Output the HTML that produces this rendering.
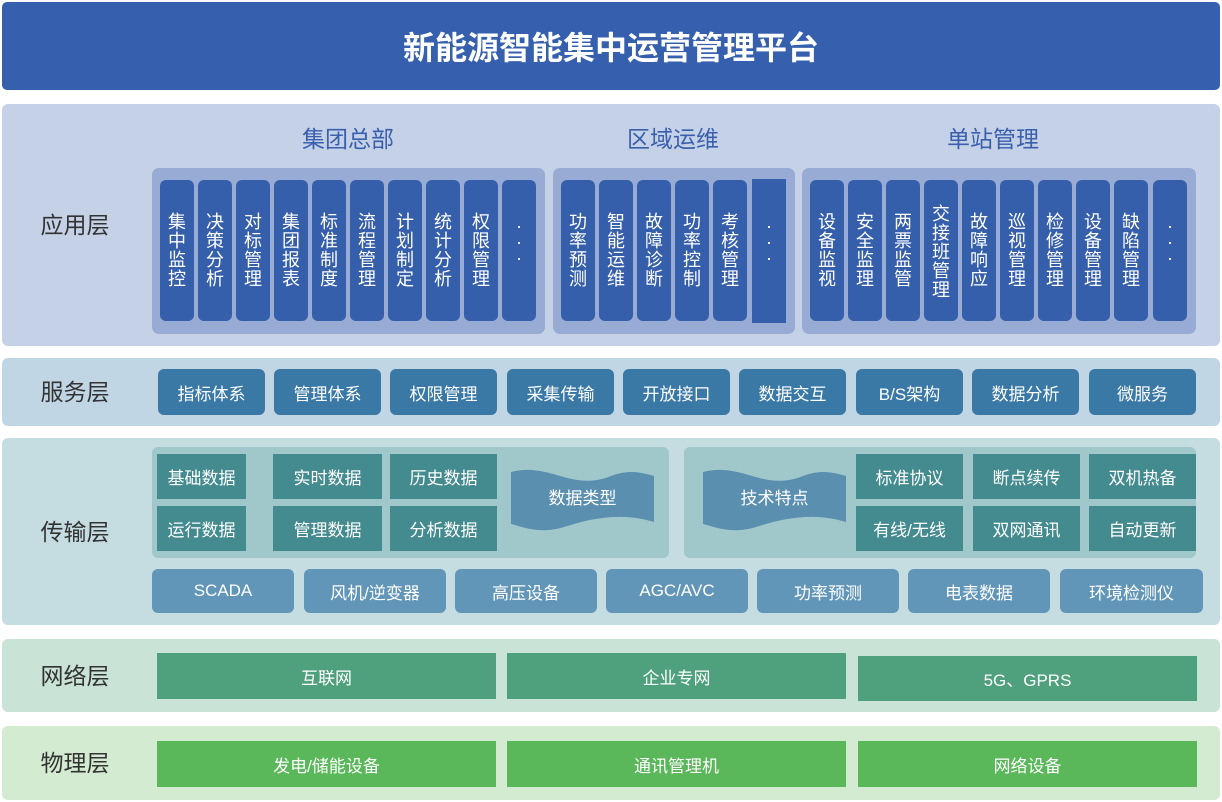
<!DOCTYPE html>
<html><head><meta charset="utf-8"><style>
body{margin:0;width:1222px;height:802px;background:#fff;position:relative;overflow:hidden;font-family:"Liberation Sans","Noto Sans CJK SC",sans-serif;}
div{position:absolute;box-sizing:border-box;}
.c{display:flex;align-items:center;justify-content:center;color:#fff;font-size:17px;}
.lbl{font-size:23px;color:#333;width:150px;text-align:center;left:0;}
.col{top:180px;width:34px;height:141px;background:#365fab;border-radius:6px;color:#fff;font-size:18px;line-height:19px;text-align:center;padding-top:33px;}
.sv{top:369px;width:107px;height:46px;background:#3a78a6;border-radius:6px;}
.tl{width:107px;height:45px;background:#448b8f;}
.bt{top:569px;width:142px;height:44px;background:#6296b8;border-radius:6px;}
.h{color:#3a5fae;font-size:23px;top:120px;width:200px;text-align:center;}
</style></head><body>
<div class="c" style="left:2px;top:2px;width:1218px;height:88px;background:#3660ad;border-radius:5px;font-size:32px;font-weight:bold;">新能源智能集中运营管理平台</div>

<div style="left:2px;top:104px;width:1218px;height:242px;background:#c5d1e6;border-radius:6px;"></div>
<div class="lbl" style="top:206px;">应用层</div>
<div class="h" style="left:248px;">集团总部</div>
<div class="h" style="left:573px;">区域运维</div>
<div class="h" style="left:893px;">单站管理</div>
<div style="left:152px;top:168px;width:393px;height:166px;background:#97abd4;border-radius:7px;"></div>
<div style="left:553px;top:168px;width:242px;height:166px;background:#97abd4;border-radius:7px;"></div>
<div style="left:802px;top:168px;width:394px;height:166px;background:#97abd4;border-radius:7px;"></div>

<div class="col" style="left:160px;">集<br>中<br>监<br>控</div>
<div class="col" style="left:198px;">决<br>策<br>分<br>析</div>
<div class="col" style="left:236px;">对<br>标<br>管<br>理</div>
<div class="col" style="left:274px;">集<br>团<br>报<br>表</div>
<div class="col" style="left:312px;">标<br>准<br>制<br>度</div>
<div class="col" style="left:350px;">流<br>程<br>管<br>理</div>
<div class="col" style="left:388px;">计<br>划<br>制<br>定</div>
<div class="col" style="left:426px;">统<br>计<br>分<br>析</div>
<div class="col" style="left:464px;">权<br>限<br>管<br>理</div>
<div class="col" style="left:502px;line-height:16px;padding-top:38px;">·<br>·<br>·</div>

<div class="col" style="left:561px;">功<br>率<br>预<br>测</div>
<div class="col" style="left:599px;">智<br>能<br>运<br>维</div>
<div class="col" style="left:637px;">故<br>障<br>诊<br>断</div>
<div class="col" style="left:675px;">功<br>率<br>控<br>制</div>
<div class="col" style="left:713px;">考<br>核<br>管<br>理</div>
<div class="col" style="left:752px;top:179px;height:144px;border-radius:0;line-height:16px;padding-top:39px;">·<br>·<br>·</div>

<div class="col" style="left:810px;">设<br>备<br>监<br>视</div>
<div class="col" style="left:848px;">安<br>全<br>监<br>理</div>
<div class="col" style="left:886px;">两<br>票<br>监<br>管</div>
<div class="col" style="left:924px;padding-top:25px;">交<br>接<br>班<br>管<br>理</div>
<div class="col" style="left:962px;">故<br>障<br>响<br>应</div>
<div class="col" style="left:1000px;">巡<br>视<br>管<br>理</div>
<div class="col" style="left:1038px;">检<br>修<br>管<br>理</div>
<div class="col" style="left:1076px;">设<br>备<br>管<br>理</div>
<div class="col" style="left:1114px;">缺<br>陷<br>管<br>理</div>
<div class="col" style="left:1153px;line-height:16px;padding-top:38px;">·<br>·<br>·</div>

<div style="left:2px;top:358px;width:1218px;height:68px;background:#c1d6e4;border-radius:6px;"></div>
<div class="lbl" style="top:373px;">服务层</div>
<div class="c sv" style="left:158px;">指标体系</div>
<div class="c sv" style="left:274px;">管理体系</div>
<div class="c sv" style="left:390px;">权限管理</div>
<div class="c sv" style="left:507px;">采集传输</div>
<div class="c sv" style="left:623px;">开放接口</div>
<div class="c sv" style="left:739px;">数据交互</div>
<div class="c sv" style="left:856px;">B/S架构</div>
<div class="c sv" style="left:972px;">数据分析</div>
<div class="c sv" style="left:1089px;">微服务</div>

<div style="left:2px;top:438px;width:1218px;height:187px;background:#c5dde0;border-radius:6px;"></div>
<div class="lbl" style="top:513px;">传输层</div>
<div style="left:152px;top:447px;width:517px;height:111px;background:#a0c8cb;border-radius:6px;"></div>
<div style="left:684px;top:447px;width:512px;height:111px;background:#a0c8cb;border-radius:6px;"></div>
<div class="c tl" style="left:157px;top:454px;width:89px;">基础数据</div>
<div class="c tl" style="left:273px;top:454px;width:109px;">实时数据</div>
<div class="c tl" style="left:390px;top:454px;">历史数据</div>
<div class="c tl" style="left:157px;top:506px;width:89px;">运行数据</div>
<div class="c tl" style="left:273px;top:506px;width:109px;">管理数据</div>
<div class="c tl" style="left:390px;top:506px;">分析数据</div>
<svg style="position:absolute;left:511px;top:466px" width="143" height="66"><path d="M0 6 C40 -4 60 26 100 10 C120 2 135 8 143 10 L143 56 C110 46 80 52 50 62 C25 68 10 60 0 58 Z" fill="#5b8fb0"/></svg>
<div class="c" style="left:511px;top:476px;width:143px;height:40px;">数据类型</div>
<svg style="position:absolute;left:703px;top:466px" width="143" height="66"><path d="M0 6 C40 -4 60 26 100 10 C120 2 135 8 143 10 L143 56 C110 46 80 52 50 62 C25 68 10 60 0 58 Z" fill="#5b8fb0"/></svg>
<div class="c" style="left:703px;top:476px;width:143px;height:40px;">技术特点</div>
<div class="c tl" style="left:856px;top:454px;">标准协议</div>
<div class="c tl" style="left:973px;top:454px;">断点续传</div>
<div class="c tl" style="left:1089px;top:454px;">双机热备</div>
<div class="c tl" style="left:856px;top:506px;">有线/无线</div>
<div class="c tl" style="left:973px;top:506px;">双网通讯</div>
<div class="c tl" style="left:1089px;top:506px;">自动更新</div>
<div class="c bt" style="left:152px;">SCADA</div>
<div class="c bt" style="left:304px;">风机/逆变器</div>
<div class="c bt" style="left:455px;">高压设备</div>
<div class="c bt" style="left:606px;">AGC/AVC</div>
<div class="c bt" style="left:757px;">功率预测</div>
<div class="c bt" style="left:908px;">电表数据</div>
<div class="c bt" style="left:1060px;width:143px;">环境检测仪</div>

<div style="left:2px;top:639px;width:1218px;height:73px;background:#c9e3d6;border-radius:6px;"></div>
<div class="lbl" style="top:657px;">网络层</div>
<div class="c" style="left:157px;top:653px;width:339px;height:46px;background:#4ea17c;">互联网</div>
<div class="c" style="left:507px;top:653px;width:339px;height:46px;background:#4ea17c;">企业专网</div>
<div class="c" style="left:858px;top:656px;width:339px;height:45px;background:#4ea17c;">5G、GPRS</div>

<div style="left:2px;top:726px;width:1218px;height:74px;background:#d3ecd1;border-radius:6px;"></div>
<div class="lbl" style="top:744px;">物理层</div>
<div class="c" style="left:157px;top:741px;width:339px;height:46px;background:#5ab75a;">发电/储能设备</div>
<div class="c" style="left:507px;top:741px;width:339px;height:46px;background:#5ab75a;">通讯管理机</div>
<div class="c" style="left:858px;top:741px;width:339px;height:46px;background:#5ab75a;">网络设备</div>
</body></html>
